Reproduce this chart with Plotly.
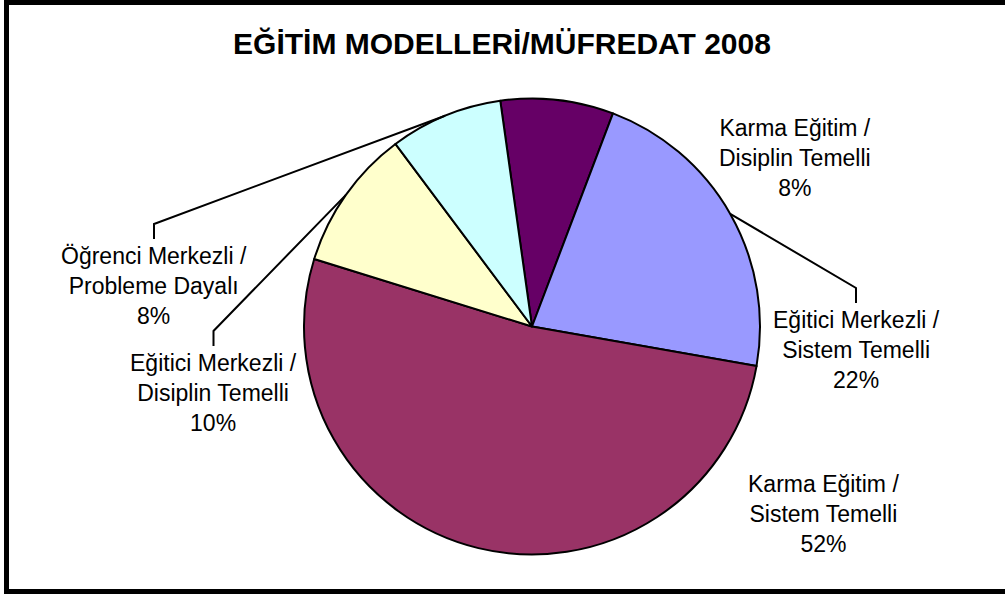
import math
import plotly.graph_objects as go

# ---- data ----
categories = [
    "Karma Eğitim /<br>Disiplin Temelli",
    "Eğitici Merkezli /<br>Sistem Temelli",
    "Karma Eğitim /<br>Sistem Temelli",
    "Eğitici Merkezli /<br>Disiplin Temelli",
    "Öğrenci Merkezli /<br>Probleme Dayalı",
]
values = [4, 11, 26, 5, 4]
colors = ["#660066", "#9999FF", "#993366", "#FFFFCC", "#CCFFFF"]
title_text = "EĞİTİM MODELLERİ/MÜFREDAT 2008"

# ---- layout constants (pixels) ----
W, H = 1005, 595
CX, CY, R = 532, 326.5, 228
ROT = -8
FONT = "Arial, Liberation Sans, sans-serif"
label_pos = [(795, 158), (856, 350), (823, 514), (213.5, 393), (154, 286)]
has_leader = [False, True, False, True, True]


def px(x):
    return x / W


def py(y):
    return 1 - y / H


total = sum(values)

fig = go.Figure(
    go.Pie(
        labels=[c.replace("<br>", " ") for c in categories],
        values=values,
        sort=False,
        direction="clockwise",
        rotation=ROT,
        textinfo="none",
        marker=dict(colors=colors, line=dict(color="black", width=2)),
        domain=dict(x=[px(CX - R), px(CX + R)], y=[py(CY + R), py(CY - R)]),
        showlegend=False,
    )
)

annotations = []
shapes = []
start = ROT
for cat, v, (lx, ly), lead in zip(categories, values, label_pos, has_leader):
    span = 360 * v / total
    mid = math.radians(start + span / 2)
    start += span
    pct = round(100 * v / total)
    annotations.append(
        dict(
            x=px(lx), y=py(ly), xref="paper", yref="paper",
            text=f"{cat}<br>{pct}%", showarrow=False,
            xanchor="center", yanchor="middle", align="center",
            font=dict(family=FONT, size=23, color="black"),
        )
    )
    if lead:
        ex, ey = CX + R * math.sin(mid), CY - R * math.cos(mid)
        tb = ly - 47
        tt = tb - 15
        shapes.append(
            dict(
                type="path", xref="paper", yref="paper",
                path=f"M {px(ex)} {py(ey)} L {px(lx)} {py(tt)} L {px(lx)} {py(tb)}",
                line=dict(color="black", width=2),
            )
        )

# chart border
shapes.append(
    dict(type="rect", xref="paper", yref="paper",
         x0=px(6.5), x1=px(1012), y0=py(591.5), y1=py(2.5),
         line=dict(color="black", width=5))
)

fig.update_layout(
    width=W, height=H, autosize=False,
    margin=dict(l=0, r=0, t=0, b=0),
    paper_bgcolor="white", plot_bgcolor="white",
    title=dict(text=f"<b>{title_text}</b>", x=px(502), xanchor="center",
               y=py(43.5), yanchor="middle", yref="container",
               font=dict(family=FONT, size=30, color="black")),
    annotations=annotations,
    shapes=shapes,
)

fig.write_html(
    "out.html",
    config={"displayModeBar": False},
    post_script="document.body.style.margin='0';document.body.style.overflow='hidden';",
)
